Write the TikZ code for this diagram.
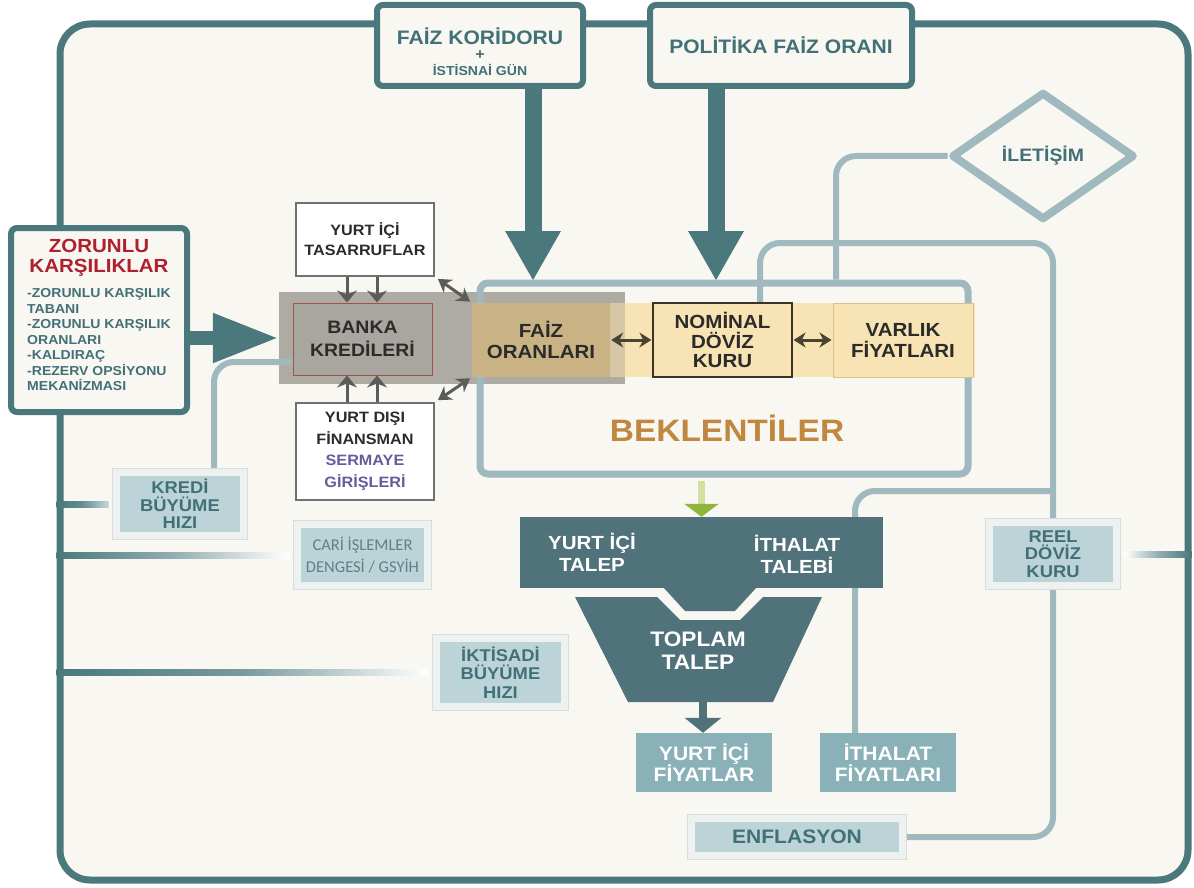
\documentclass[tikz,border=0pt]{standalone}
\usepackage{fontspec}
\setmainfont{Liberation Sans}
\newfontfamily\hb[FakeStretch=1.08]{Liberation Sans}
\newfontfamily\carl{Carlito}
\usetikzlibrary{arrows.meta,calc,shapes.geometric}
\newcommand\setfs[2]{\fontsize{#1}{#2}\selectfont}
\definecolor{frameC}{HTML}{4A787D}
\definecolor{bgC}{HTML}{F8F7F2}
\definecolor{lineC}{HTML}{9FB9BE}
\definecolor{darkC}{HTML}{50727B}
\definecolor{midC}{HTML}{89B1B7}
\definecolor{paleC}{HTML}{BCD4D8}
\definecolor{paleOut}{HTML}{EDF1F0}
\definecolor{paleEdge}{HTML}{D8DCDA}
\definecolor{txtC}{HTML}{427077}
\definecolor{redC}{HTML}{AF1F2D}
\definecolor{purpC}{HTML}{6A5A9C}
\definecolor{orangeC}{HTML}{C0873F}
\definecolor{yelC}{HTML}{F7E3B4}
\definecolor{khaki}{HTML}{C9B385}
\definecolor{khakiL}{HTML}{D6C8A6}
\definecolor{greyC}{HTML}{ADABA3}
\definecolor{bankC}{HTML}{A8A69F}
\definecolor{redEdge}{HTML}{A0524C}
\definecolor{arrC}{HTML}{4A4233}
\definecolor{gArr}{HTML}{5B5B59}
\definecolor{boxEdge}{HTML}{707070}
\definecolor{dkTxt}{HTML}{2B2B2B}
\definecolor{greenC}{HTML}{8CB63C}
\definecolor{greenL}{HTML}{D3E0A0}
\definecolor{cariT}{HTML}{5E8087}
\definecolor{nomEdge}{HTML}{3A3326}
\definecolor{varEdge}{HTML}{D8C18C}
\pgfdeclarelayer{back}
\pgfdeclarelayer{lines}
\pgfsetlayers{back,lines,main}
\begin{document}
\begin{tikzpicture}[x=1pt,y=-1pt,
  fs/.style 2 args={font=\hb\bfseries\setfs{#1}{#2}},
  txt/.style={align=center,inner sep=0pt},
  topbox/.style={draw=frameC,line width=6,rounded corners=6,fill=bgC,inner sep=0pt},
  lnk/.style={draw=lineC,line width=6,rounded corners=20},
  pale/.style={fill=paleC,draw=paleOut,line width=7,preaction={draw=paleEdge,line width=9},inner sep=0pt,align=center,text=txtC},
  midbox/.style={fill=midC,inner sep=0pt,align=center,text=white},
  wbox/.style={fill=white,draw=boxEdge,line width=1.2,inner sep=0pt,align=center,text=dkTxt},
  ybox/.style={inner sep=0pt,align=center,text=dkTxt,minimum height=74},
  dbl/.style={draw=arrC,line width=3,{Stealth[length=12pt,width=15pt]}-{Stealth[length=12pt,width=15pt]},shorten <=1pt,shorten >=1pt},
  gdbl/.style={draw=gArr,line width=3,{Stealth[length=13pt,width=16pt]}-{Stealth[length=13pt,width=16pt]},shorten <=4pt,shorten >=2pt},
  garr/.style={draw=gArr,line width=3,-{Stealth[length=12pt,width=20pt,inset=4pt]}},
  big/.style={draw=frameC,line width=17},
]
\path[use as bounding box] (0,0) rectangle (1194,888);
\begin{pgfonlayer}{back}
\fill[white] (0,0) rectangle (1194,888);
\node[draw=frameC,line width=7,rounded corners=30,fill=bgC,minimum width=1128,minimum height=856,inner sep=0pt] (frame) at (624,452) {};
\node[fill=greyC,minimum width=346,minimum height=92,inner sep=0pt] (bsh) at (452,338) {};
\end{pgfonlayer}

% BEKLENTILER
\node[draw=lineC,line width=7,rounded corners=8,minimum width=488,minimum height=191,inner sep=0pt] (bek) at (724,378.5) {};
\node[txt,fs={31}{34},text=orangeC] (bekt) at (727,428) {BEKLENTİLER};

% yellow row
\fill[khakiL] (472,303) rectangle (625,377);
\fill[yelC] (625,303) rectangle (975,377);
\node[ybox,fill=khaki,minimum width=138,fs={19}{21}] (faiz) at (541,340) {FAİZ\\ORANLARI};
\node[ybox,fill=yelC,draw=nomEdge,line width=1.2,minimum width=139,fs={19}{19.5}] (nom) at (722.5,340) {NOMİNAL\\DÖVİZ\\KURU};
\node[ybox,fill=yelC,draw=varEdge,line width=1,minimum width=140,fs={19}{21}] (var) at (903,340) {VARLIK\\FİYATLARI};
\draw[dbl] (faiz.east) -- (nom.west);
\draw[dbl] (nom.east) -- (var.west);

% banka kredileri
\node[txt,fill=bankC,draw=redEdge,line width=1,minimum width=139,minimum height=72,fs={18}{23},text=dkTxt] (banka) at (362.5,339) {BANKA\\KREDİLERİ};
\node[wbox,minimum width=138,minimum height=73,fs={15}{20}] (tas) at (365,239.5) {YURT İÇİ\\TASARRUFLAR};
\node[wbox,minimum width=138,minimum height=97,fs={15}{21.5}] (yd) at (365,451.5) {YURT DIŞI\\FİNANSMAN\\\textcolor{purpC}{SERMAYE}\\\textcolor{purpC}{GİRİŞLERİ}};
\coordinate (a1) at ($(tas.south)+(-18,0)$);
\coordinate (a2) at ($(tas.south)+(12,0)$);
\coordinate (b1) at ($(yd.north)+(-18,0)$);
\coordinate (b2) at ($(yd.north)+(12,0)$);
\draw[garr] (a1) -- (a1 |- banka.north);
\draw[garr] (a2) -- (a2 |- banka.north);
\draw[garr] (b1) -- (b1 |- banka.south);
\draw[garr] (b2) -- (b2 |- banka.south);
\draw[gdbl] (tas.south east) -- (faiz.north west);
\draw[gdbl] (yd.north east) -- (faiz.south west);

% zorunlu karsiliklar
\node[topbox,minimum width=176,minimum height=184] (zk) at (99,320) {};
\node[txt,fs={19}{20},text=redC] (zkt) at (99,258) {ZORUNLU\\KARŞILIKLAR};
\node[txt,align=left,fs={13}{15.5},text=txtC,anchor=west] (zki) at (27,340) {-ZORUNLU KARŞILIK\\TABANI\\-ZORUNLU KARŞILIK\\ORANLARI\\-KALDIRAÇ\\-REZERV OPSİYONU\\MEKANİZMASI};
\draw[frameC,line width=14,-{Triangle[width=46pt,length=66pt]}] (zk.east |- bsh.west) -- (bsh.west);

% top boxes
\coordinate (tA) at (533,281);
\coordinate (tB) at (716,281);
\node[topbox,minimum width=206,minimum height=81] (fk) at (480,45.5) {};
\node[txt,fs={19.5}{20},text=txtC] (fkt) at (480,36) {FAİZ KORİDORU};
\node[txt,fs={15}{15},text=txtC] (fkp) at (480,55.5) {+};
\node[txt,fs={13}{14},text=txtC] (fki) at (480,70) {İSTİSNAİ GÜN};
\node[topbox,minimum width=262,minimum height=81,txt,fs={19.5}{20},text=txtC] (pfo) at (781,45.5) {POLİTİKA FAİZ ORANI};

% demand
\node[fill=darkC,minimum width=363,minimum height=71,inner sep=0pt] (dem) at (701.5,552.5) {};
\fill[darkC] (663,587) -- (685,611) -- (735,611) -- (757,587) -- cycle;
\fill[darkC] (575,597) -- (657,597) -- (680,620) -- (740,620) -- (763,597) -- (822,597) -- (773,702) -- (628,702) -- cycle;
\node[txt,fs={19}{22},text=white] (dt) at (592,552) {YURT İÇİ\\TALEP};
\node[txt,fs={19}{22},text=white] (itl) at (797,554) {İTHALAT\\TALEBİ};
\node[txt,fs={21}{23},text=white] (tot) at (698,651) {TOPLAM\\TALEP};
\coordinate (tpb) at (703,702);
\node[midbox,minimum width=136,minimum height=59,fs={19.5}{21}] (yif) at (704,762.5) {YURT İÇİ\\FİYATLAR};
\node[midbox,minimum width=136,minimum height=59,fs={19.5}{21}] (itf) at (888,762.5) {İTHALAT\\FİYATLARI};
\draw[darkC,line width=8,-{Triangle[width=36pt,length=15pt]}] (tpb) -- (tpb |- yif.north);
\draw[greenL,line width=7,shorten <=3.5pt,-{Triangle[width=34pt,length=13pt,color=greenC]}] (bek.south -| dem.north) -- (dem.north);

% pale boxes
\node[pale,minimum width=127,minimum height=63,fs={17}{17.5}] (kredi) at (180,504) {KREDİ\\BÜYÜME\\HIZI};
\node[pale,minimum width=130,minimum height=61,font=\carl\setfs{16.5}{22},text=cariT] (cari) at (362.5,555) {CARİ İŞLEMLER\\DENGESİ / GSYİH};
\node[pale,minimum width=128,minimum height=68,fs={17}{18.5}] (ikt) at (500.5,672.5) {İKTİSADİ\\BÜYÜME\\HIZI};
\node[pale,minimum width=127,minimum height=63,fs={17}{17.5}] (reel) at (1053,554) {REEL\\DÖVİZ\\KURU};
\node[pale,minimum width=211,minimum height=37,fs={19.5}{20}] (enf) at (797,837) {ENFLASYON};

% iletisim
\node[diamond,draw=lineC,line width=8,line join=round,fill=bgC,minimum width=183,minimum height=128,inner sep=0pt,txt,fs={18}{20},text=txtC] (ilet) at (1043,156) {İLETİŞİM};

\begin{pgfonlayer}{lines}
\coordinate (g1) at (frame.west |- kredi.west);
\shade[left color=frameC,right color=frameC!30!white,middle color=frameC!85!white] ($(g1)+(0,-3)$) rectangle ($(kredi.west)+(-4.5,3)$);
\coordinate (g2) at (frame.west |- cari.west);
\shade[left color=frameC,right color=white,middle color=frameC!60!white] ($(g2)+(0,-3)$) rectangle ($(cari.west)+(-4.5,3)$);
\coordinate (g3) at (frame.west |- ikt.west);
\shade[left color=frameC,right color=white,middle color=frameC!75!white] ($(g3)+(0,-3)$) rectangle ($(ikt.west)+(-4.5,3)$);
\coordinate (g4) at (frame.east |- reel.east);
\shade[left color=white,right color=frameC,middle color=frameC!60!white] ($(reel.east)+(4.5,-3)$) rectangle ($(g4)+(0,3)$);
\draw[lnk] (ilet.west) -| ($(bek.north)+(112,0)$);
\draw[lnk] ($(nom.north)+(37.5,0)$) |- (reel.north |- 0,243) -- (reel.north);
\draw[lnk] (reel.south) |- (enf.east);
\draw[lnk] ($(itf.north)+(-33,0)$) |- (reel.north |- 0,491);
\draw[lnk] ($(banka.west)+(0,23)$) -| ($(kredi.north)+(34,0)$);
\draw[big,-{Triangle[width=52pt,length=50pt]}] (fk.south -| tA) -- (tA);
\draw[big,-{Triangle[width=52pt,length=50pt]}] (pfo.south -| tB) -- (tB);
\end{pgfonlayer}
\end{tikzpicture}
\end{document}
